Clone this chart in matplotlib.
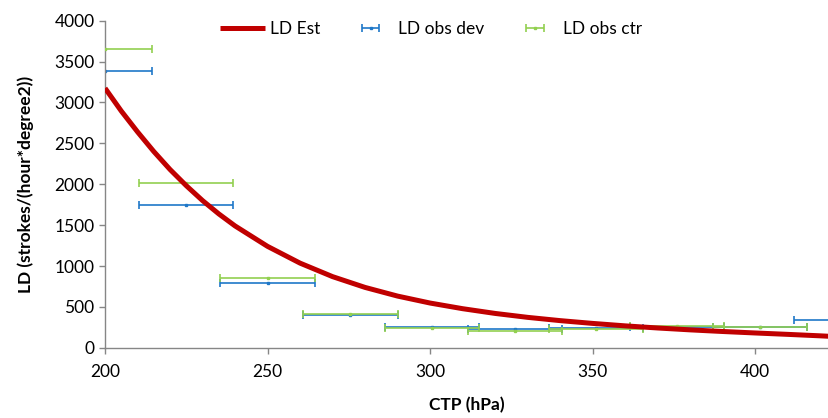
import matplotlib.pyplot as plt

plt.rcParams['font.family'] = ['Lato', 'DejaVu Sans']

# LD estimate curve
ctp_est = [200, 205, 210, 215, 220, 225, 230, 235, 240, 250, 260, 270, 280,
           290, 300, 310, 320, 330, 340, 350, 360, 370, 380, 390, 400, 410,
           420, 423]
ld_est = [3175, 2895, 2640, 2400, 2180, 1982, 1800, 1637, 1490, 1240, 1035,
          870, 738, 632, 547, 478, 420, 372, 332, 298, 268, 242, 219, 199,
          181, 164, 146, 140]

# observed bins (centre and half width in hPa)
ctp_dev = [200, 225, 250, 275.5, 300.5, 326, 351, 376, 401.5, 426.5]
ld_dev = [3380, 1750, 790, 395, 250, 225, 240, 250, 255, 335]
ctp_ctr = [200, 225, 250, 275.5, 300.5, 326, 351, 376, 401.5]
ld_ctr = [3650, 2010, 850, 415, 245, 210, 235, 265, 260]
half_width = 14.5

RED = '#C00000'
BLUE = '#1F78C8'
GREEN = '#92D050'
GRAY = '#868686'


def main() -> None:
    fig = plt.figure(figsize=(8.29, 4.18), dpi=100)
    ax = fig.add_axes([0.1267, 0.168, 0.8733, 0.7825])

    dev = ax.errorbar(ctp_dev, ld_dev, xerr=half_width, fmt='s', ms=2,
                      color=BLUE, ecolor=BLUE, elinewidth=1.2, capsize=3,
                      capthick=1.2, zorder=2, label='LD obs dev')
    ctr = ax.errorbar(ctp_ctr, ld_ctr, xerr=half_width, fmt='s', ms=2,
                      color=GREEN, ecolor=GREEN, elinewidth=1.2, capsize=3,
                      capthick=1.2, zorder=3, label='LD obs ctr')
    est, = ax.plot(ctp_est, ld_est, color=RED, lw=3.6, zorder=4,
                   solid_capstyle='butt', solid_joinstyle='round',
                   label='LD Est')

    ax.set_xlim(200, 422.7)
    ax.set_ylim(0, 4000)
    ax.set_xticks([200, 250, 300, 350, 400])
    ax.set_yticks(range(0, 4001, 500))

    for side in ('top', 'right'):
        ax.spines[side].set_visible(False)
    for side in ('left', 'bottom'):
        ax.spines[side].set_color(GRAY)
        ax.spines[side].set_linewidth(1.0)
    ax.tick_params(colors=GRAY, length=4, width=1.0, labelcolor='black',
                   labelsize=12.5)
    ax.tick_params(axis='x', pad=8)

    ax.set_xlabel('CTP (hPa)', fontsize=12.5, fontweight='bold', labelpad=12)
    ax.set_ylabel('LD (strokes/(hour*degree2))', fontsize=12.5,
                  fontweight='bold', labelpad=15)

    ax.legend(handles=[est, dev, ctr], loc='center', ncol=3, frameon=False,
              bbox_to_anchor=(0.45, 0.975), fontsize=12.5,
              handlelength=2.6, columnspacing=1.6, handletextpad=0.3)

    fig.savefig('out.png', dpi=100)


if __name__ == '__main__':
    main()
